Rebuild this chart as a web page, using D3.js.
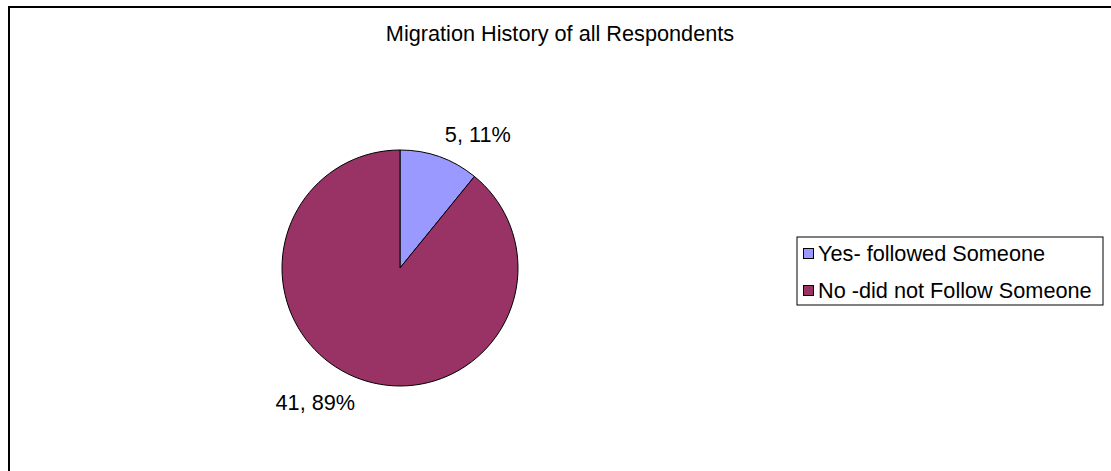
<!DOCTYPE html>
<html>
<head>
<meta charset="utf-8">
<script src="https://cdn.jsdelivr.net/npm/d3@7"></script>
<style>
  body { margin: 0; background: #fff; }
  text { font-family: "Liberation Sans", Arial, sans-serif; fill: #000; }
</style>
</head>
<body>
<div id="chart"></div>
<script>
// chart data
var categories = ["Yes- followed Someone", "No -did not Follow Someone"];
var counts = [5, 41];
var percents = ["11%", "89%"];
var colors = ["#9999FF", "#993366"];
var title = "Migration History of all Respondents";

var width = 1111, height = 471;

var svg = d3.select("#chart")
  .append("svg")
  .attr("width", width)
  .attr("height", height);

// outer chart border (runs off the right and bottom edge)
svg.append("rect")
  .attr("x", 9)
  .attr("y", 7)
  .attr("width", 1200)
  .attr("height", 600)
  .attr("fill", "none")
  .attr("stroke", "#000")
  .attr("stroke-width", 2);

// title
svg.append("text")
  .attr("x", 560)
  .attr("y", 41)
  .attr("text-anchor", "middle")
  .style("font-size", "21.7px")
  .text(title);

// pie
var cx = 400, cy = 268, radius = 118, labelRadius = 134;

var data = categories.map(function (c, i) {
  return { name: c, value: counts[i], pct: percents[i], color: colors[i] };
});

var pie = d3.pie()
  .sort(null)
  .value(function (d) { return d.value; });

var arc = d3.arc()
  .innerRadius(0)
  .outerRadius(radius);

var g = svg.append("g")
  .attr("transform", "translate(" + cx + "," + cy + ")");

var slices = pie(data);

g.selectAll("path")
  .data(slices)
  .enter()
  .append("path")
  .attr("d", arc)
  .attr("fill", function (d) { return d.data.color; })
  .attr("stroke", "#000")
  .attr("stroke-width", 1);

// data labels outside the slices
g.selectAll("text.label")
  .data(slices)
  .enter()
  .append("text")
  .attr("class", "label")
  .style("font-size", "21.7px")
  .attr("text-anchor", function (d) {
    var a = (d.startAngle + d.endAngle) / 2;
    return Math.sin(a) >= 0 ? "start" : "end";
  })
  .attr("x", function (d) {
    var a = (d.startAngle + d.endAngle) / 2;
    return labelRadius * Math.sin(a);
  })
  .attr("y", function (d) {
    var a = (d.startAngle + d.endAngle) / 2;
    var y = -labelRadius * Math.cos(a);
    // lower labels hang below the anchor point
    return Math.cos(a) < 0 ? y + 15.5 : y;
  })
  .text(function (d) { return d.data.value + ", " + d.data.pct; });

// legend
var legend = svg.append("g")
  .attr("transform", "translate(797,237)");

legend.append("rect")
  .attr("width", 306)
  .attr("height", 68)
  .attr("fill", "#fff")
  .attr("stroke", "#000")
  .attr("stroke-width", 1);

var rows = legend.selectAll("g.row")
  .data(data)
  .enter()
  .append("g")
  .attr("class", "row")
  .attr("transform", function (d, i) { return "translate(0," + (i * 37) + ")"; });

rows.append("rect")
  .attr("x", 6.5)
  .attr("y", 11.5)
  .attr("width", 10)
  .attr("height", 10)
  .attr("fill", function (d) { return d.color; })
  .attr("stroke", "#000")
  .attr("stroke-width", 1);

rows.append("text")
  .attr("x", 21)
  .attr("y", 16)
  .attr("dy", "0.35em")
  .style("font-size", "21.7px")
  .text(function (d) { return d.name; });
</script>
</body>
</html>
